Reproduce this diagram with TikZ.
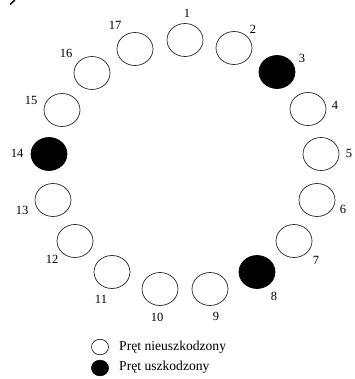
\documentclass[tikz,border=0pt]{standalone}
\usepackage{fontspec}
\setmainfont{Liberation Serif}
\usetikzlibrary{shapes.geometric}
\begin{document}
\begin{tikzpicture}[x=1pt,y=-1pt,
  pret/.style={ellipse,draw=black!85,line width=0.7pt,minimum width=36pt,minimum height=33pt,inner sep=0pt},
  ok/.style={pret,fill=white},
  bad/.style={pret,fill=black,draw=black},
  num/.style={font=\fontsize{12.5}{13}\selectfont,inner sep=0pt,anchor=center},
  legok/.style={ellipse,draw=black!85,line width=0.7pt,fill=white,minimum width=17pt,minimum height=15.5pt,inner sep=0pt},
  legbad/.style={legok,fill=black,draw=black},
  legtxt/.style={font=\fontsize{13.6}{15}\selectfont,inner sep=0pt,anchor=west}]
\useasboundingbox (0,0) rectangle (354,379);
\draw[line width=1.4pt] (10,4.5) -- (15,0);
% rods
\node[ok]  (c1)  at (185,40) {};
\node[ok]  (c2)  at (234,48) {};
\node[bad] (c3)  at (277,72) {};
\node[ok]  (c4)  at (308,109) {};
\node[ok]  (c5)  at (321,154) {};
\node[ok]  (c6)  at (317,200) {};
\node[ok]  (c7)  at (294,241) {};
\node[bad] (c8)  at (257,272) {};
\node[ok]  (c9)  at (210,289) {};
\node[ok]  (c10) at (160,289) {};
\node[ok]  (c11) at (112,272) {};
\node[ok]  (c12) at (75,241) {};
\node[ok]  (c13) at (53,200) {};
\node[bad] (c14) at (49,154) {};
\node[ok]  (c15) at (62,110) {};
\node[ok]  (c16) at (92,73) {};
\node[ok]  (c17) at (135,49) {};
% numbers
\node[num] (n1)  at (187,13) {1};
\node[num] (n2)  at (253,29) {2};
\node[num] (n3)  at (302,58) {3};
\node[num] (n4)  at (335,105) {4};
\node[num] (n5)  at (349,153) {5};
\node[num] (n6)  at (343,209) {6};
\node[num] (n7)  at (316,260) {7};
\node[num] (n8)  at (274,296) {8};
\node[num] (n9)  at (216,316) {9};
\node[num] (n10) at (157,317) {10};
\node[num] (n11) at (101,299) {11};
\node[num] (n12) at (52,259) {12};
\node[num] (n13) at (22,210) {13};
\node[num] (n14) at (17,153) {14};
\node[num] (n15) at (31,100) {15};
\node[num] (n16) at (66,53) {16};
\node[num] (n17) at (115,25) {17};
% legend
\node[legok]  (l1) at (100,347) {};
\node[legbad] (l2) at (100,368) {};
\node[legtxt] (t1) at (119,347) {Pręt nieuszkodzony};
\node[legtxt] (t2) at (119,367.5) {Pręt uszkodzony};
\end{tikzpicture}
\end{document}
